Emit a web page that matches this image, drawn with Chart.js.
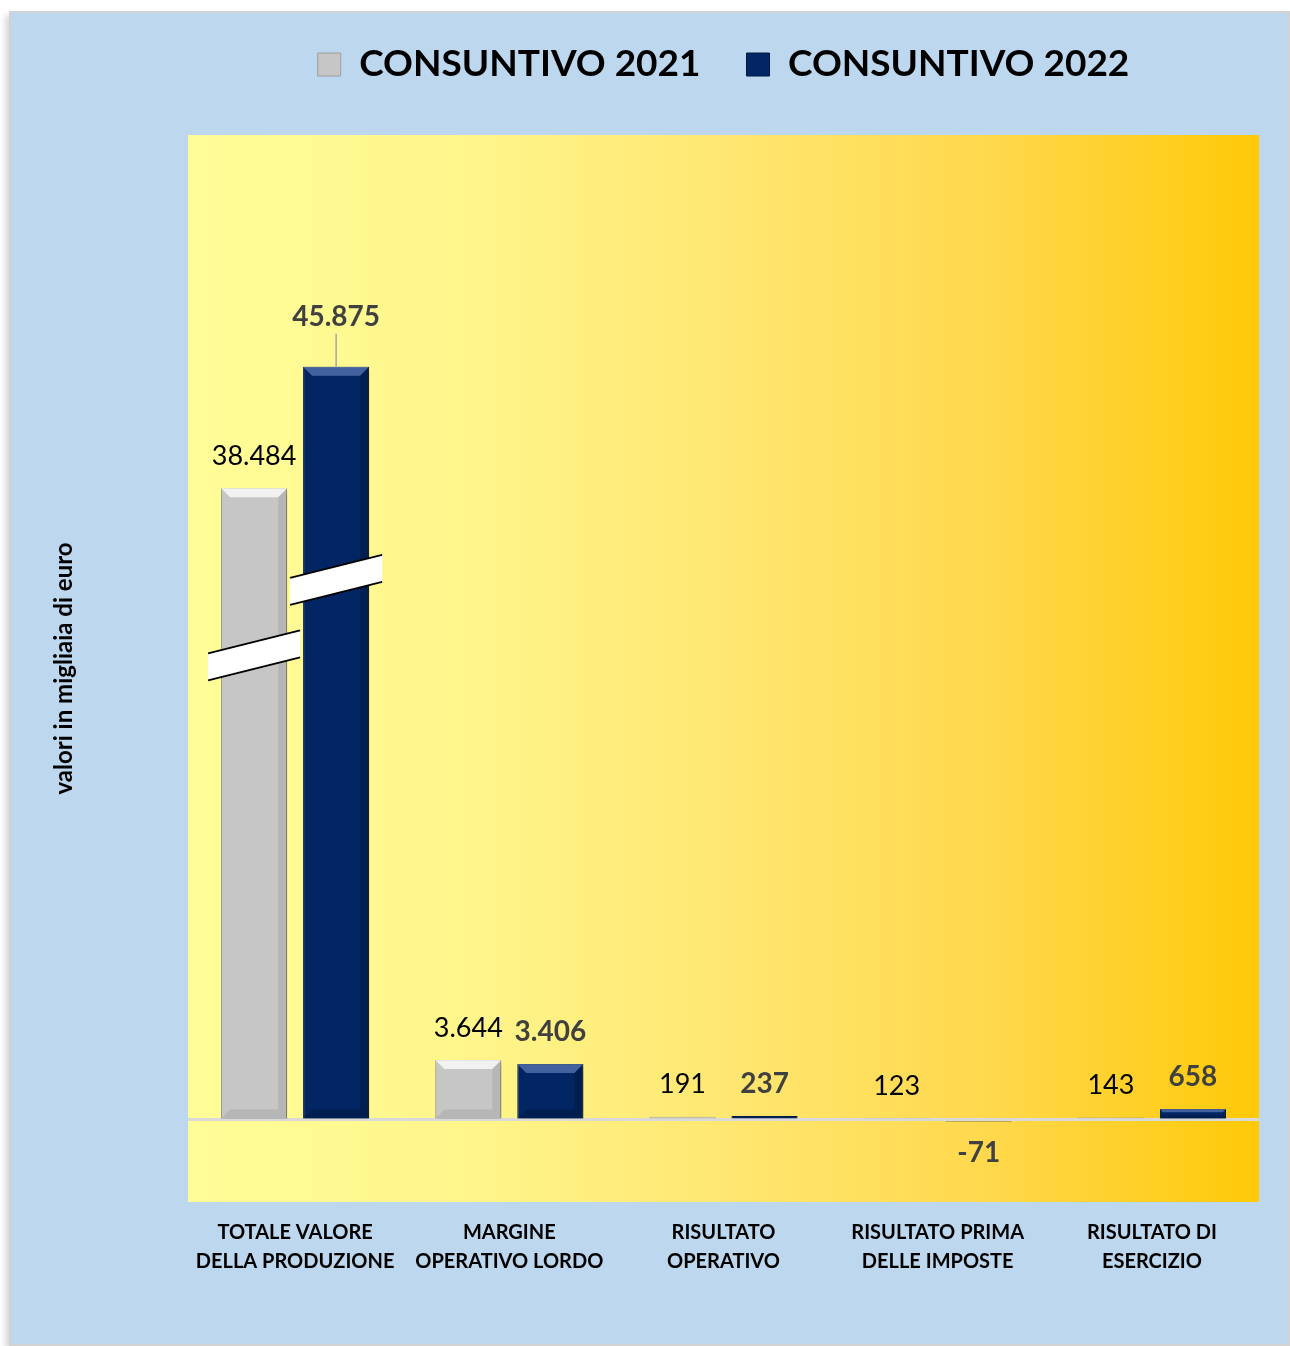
<!DOCTYPE html>
<html lang="it">
<head>
<meta charset="utf-8">
<title>Consuntivo 2021 - 2022</title>
<script src="https://cdn.jsdelivr.net/npm/chart.js@4.4.1/dist/chart.umd.min.js"></script>
<style>
  html, body { margin: 0; padding: 0; background: #fff; }
  body { width: 1290px; height: 1346px; position: relative; overflow: hidden; }
  #panel {
    position: absolute; left: 9px; top: 11px; width: 1277px; height: 1331px;
    background: #bdd7ee; border: 2px solid #d2d2d2;
    box-shadow: -4px 4px 6px rgba(0, 0, 0, 0.15);
  }
  #wrap { position: absolute; left: 0; top: 0; width: 1290px; height: 1346px; }
</style>
</head>
<body>
<div id="panel"></div>
<div id="wrap"><canvas id="chart"></canvas></div>
<script>
// Valori in migliaia di euro
const categories = [
  ['TOTALE VALORE', 'DELLA PRODUZIONE'],
  ['MARGINE', 'OPERATIVO LORDO'],
  ['RISULTATO', 'OPERATIVO'],
  ['RISULTATO PRIMA', 'DELLE IMPOSTE'],
  ['RISULTATO DI', 'ESERCIZIO']
];
const seriesNames    = ['CONSUNTIVO 2021', 'CONSUNTIVO 2022'];
const consuntivo2021 = [38484, 3644, 191, 123, 143];
const consuntivo2022 = [45875, 3406, 237, -71, 658];

const FONT = 'Lato, "Open Sans", sans-serif';

// 38484 -> "38.484"
function fmt(v) {
  const s = String(Math.abs(v)).replace(/\B(?=(\d{3})+(?!\d))/g, '.');
  return v < 0 ? '-' + s : s;
}

// Plot area background: yellow to gold
const plotBackground = {
  id: 'plotBackground',
  beforeDraw(chart) {
    const { ctx, chartArea: a } = chart;
    const g = ctx.createLinearGradient(a.left, 0, a.right, 0);
    g.addColorStop(0.00, '#fffd98');
    g.addColorStop(0.25, '#fff68c');
    g.addColorStop(0.50, '#ffe772');
    g.addColorStop(0.75, '#ffd84c');
    g.addColorStop(1.00, '#ffc908');
    ctx.save();
    ctx.fillStyle = g;
    ctx.fillRect(a.left, a.top, a.right - a.left, a.bottom - a.top);
    ctx.restore();
  }
};

// Soft shadow under the bars
const barShadow = {
  id: 'barShadow',
  beforeDatasetsDraw(chart) {
    const ctx = chart.ctx;
    ctx.save();
    ctx.shadowColor = 'rgba(0, 0, 0, 0.35)';
    ctx.shadowBlur = 6;
    ctx.shadowOffsetX = 2;
    ctx.shadowOffsetY = 3;
  },
  afterDatasetsDraw(chart) {
    chart.ctx.restore();
  }
};

// Bevel look on each bar, break marks, value labels
const barDecor = {
  id: 'barDecor',
  afterDatasetsDraw(chart, args, opts) {
    const ctx = chart.ctx;
    const yScale = chart.scales.y;

    chart.data.datasets.forEach((ds, di) => {
      const meta = chart.getDatasetMeta(di);
      meta.data.forEach(bar => {
        const { x, y, base, width } = bar.getProps(['x', 'y', 'base', 'width'], true);
        const top = Math.min(y, base), bottom = Math.max(y, base);
        const h = bottom - top;
        const l = x - width / 2, r = x + width / 2;
        if (h < 4) return;
        const b = Math.min(9, h / 3);
        ctx.save();
        ctx.fillStyle = ds.bevelLight;
        ctx.beginPath();
        ctx.moveTo(l, top); ctx.lineTo(r, top);
        ctx.lineTo(r - b, top + b); ctx.lineTo(l + b, top + b);
        ctx.closePath(); ctx.fill();
        ctx.fillStyle = ds.bevelDark;
        ctx.beginPath();
        ctx.moveTo(r, top); ctx.lineTo(r, bottom);
        ctx.lineTo(r - b, bottom - b); ctx.lineTo(r - b, top + b);
        ctx.closePath(); ctx.fill();
        ctx.beginPath();
        ctx.moveTo(l, bottom); ctx.lineTo(r, bottom);
        ctx.lineTo(r - b, bottom - b); ctx.lineTo(l + b, bottom - b);
        ctx.closePath(); ctx.fill();
        ctx.restore();
      });
    });

    // axis break marks on the first group
    (opts.breaks || []).forEach(br => {
      const bar = chart.getDatasetMeta(br.dataset).data[br.index];
      const cx = bar.x;
      const cy = yScale.getPixelForValue(br.value);
      const hw = bar.width / 2 + 13;
      const k = 0.25, t = 27;
      ctx.save();
      ctx.fillStyle = '#ffffff';
      ctx.beginPath();
      ctx.moveTo(cx - hw, cy + hw * k - t / 2);
      ctx.lineTo(cx + hw, cy - hw * k - t / 2);
      ctx.lineTo(cx + hw, cy - hw * k + t / 2);
      ctx.lineTo(cx - hw, cy + hw * k + t / 2);
      ctx.closePath(); ctx.fill();
      ctx.strokeStyle = '#000000';
      ctx.lineWidth = 2;
      ctx.beginPath();
      ctx.moveTo(cx - hw, cy + hw * k - t / 2);
      ctx.lineTo(cx + hw, cy - hw * k - t / 2);
      ctx.moveTo(cx - hw, cy + hw * k + t / 2);
      ctx.lineTo(cx + hw, cy - hw * k + t / 2);
      ctx.stroke();
      ctx.restore();
    });

    // value labels
    const maxVal = Math.max(...chart.data.datasets.flatMap(d => d.data));
    chart.data.datasets.forEach((ds, di) => {
      const meta = chart.getDatasetMeta(di);
      meta.data.forEach((bar, i) => {
        const v = ds.data[i];
        const { x, y, base } = bar.getProps(['x', 'y', 'base'], true);
        let ty;
        ctx.save();
        if (v >= 0) {
          const off = v === maxVal ? 50 : 32;
          ty = Math.min(y, base) - off;
          if (v === maxVal) {
            ctx.strokeStyle = '#a6a6a6';
            ctx.lineWidth = 1.5;
            ctx.beginPath();
            ctx.moveTo(x, ty + 17);
            ctx.lineTo(x, Math.min(y, base));
            ctx.stroke();
          }
        } else {
          ty = Math.max(y, base) + 32;
        }
        ctx.font = ds.labelFont;
        ctx.fillStyle = ds.labelColor;
        ctx.textAlign = 'center';
        ctx.textBaseline = 'middle';
        ctx.fillText(fmt(v), x, ty);
        ctx.restore();
      });
    });
  }
};

// Extra space under the legend
const legendSpace = {
  id: 'legendSpace',
  beforeInit(chart) {
    const fit = chart.legend.fit;
    chart.legend.fit = function () {
      fit.bind(chart.legend)();
      this.height = 135;
    };
  }
};

new Chart(document.getElementById('chart'), {
  type: 'bar',
  data: {
    labels: categories,
    datasets: [
      {
        label:           seriesNames[0],
        data:            consuntivo2021,
        backgroundColor: '#c6c6c6',
        borderColor:     '#9e9e9e',
        borderWidth:     1,
        bevelLight:      'rgba(255, 255, 255, 0.75)',
        bevelDark:       'rgba(0, 0, 0, 0.08)',
        labelFont:       '27px ' + FONT,
        labelColor:      '#000000'
      },
      {
        label:           seriesNames[1],
        data:            consuntivo2022,
        backgroundColor: '#022563',
        borderColor:     '#011640',
        borderWidth:     1,
        bevelLight:      'rgba(120, 150, 210, 0.55)',
        bevelDark:       'rgba(0, 0, 0, 0.18)',
        labelFont:       'bold 28px ' + FONT,
        labelColor:      '#404040'
      }
    ]
  },
  options: {
    responsive: true,
    maintainAspectRatio: false,
    animation: false,
    layout: { padding: { top: 0, left: 46, right: 31, bottom: 0 } },
    datasets: {
      bar: { categoryPercentage: 0.766, barPercentage: 0.805 }
    },
    plugins: {
      legend: {
        position: 'top',
        fullSize: false,
        labels: {
          color: '#000000',
          font: { family: FONT, size: 37, weight: 'bold' },
          boxWidth: 23,
          boxHeight: 23,
          padding: 46
        }
      },
      tooltip: { enabled: false },
      barDecor: {
        breaks: [
          { dataset: 0, index: 0, value: 28300 },
          { dataset: 1, index: 0, value: 32900 }
        ]
      }
    },
    scales: {
      x: {
        grid: { display: false, drawTicks: false },
        border: { display: false },
        ticks: {
          color: '#000000',
          font: { family: FONT, size: 20, weight: 'bold', lineHeight: 1.45 },
          padding: 16,
          maxRotation: 0,
          autoSkip: false
        },
        afterFit(scale) { scale.height = 144; }
      },
      y: {
        min: -5000,
        max: 60000,
        ticks: { display: false, stepSize: 5000 },
        grid: {
          drawTicks: false,
          color: ctx => ctx.tick && ctx.tick.value === 0 ? '#d9d9d9' : 'rgba(0,0,0,0)',
          lineWidth: 3
        },
        border: { display: false },
        title: {
          display: true,
          text: 'valori in migliaia di euro',
          color: '#000000',
          font: { family: FONT, size: 24, weight: 'bold' }
        },
        afterFit(scale) { scale.width = 142; }
      }
    }
  },
  plugins: [plotBackground, barShadow, barDecor, legendSpace]
});
</script>
</body>
</html>
